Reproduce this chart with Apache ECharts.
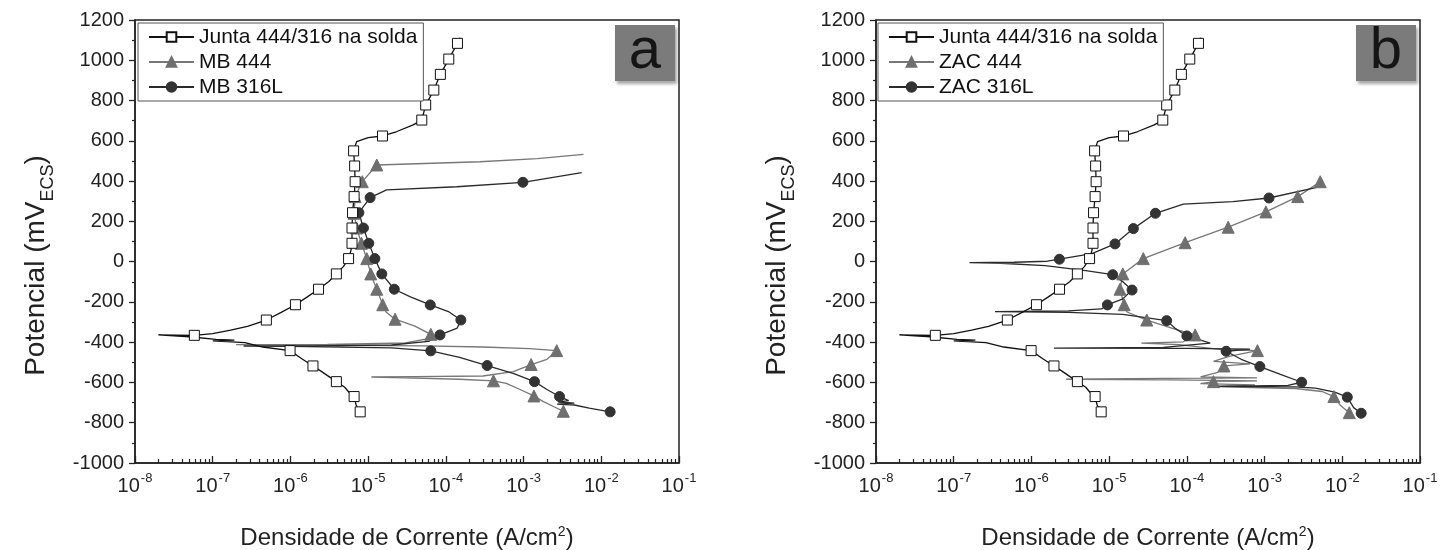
<!DOCTYPE html>
<html><head><meta charset="utf-8">
<script src="https://cdn.jsdelivr.net/npm/echarts/dist/echarts.min.js"></script>
<style>html,body{margin:0;padding:0;background:#fff}#c{width:1449px;height:550px}</style>
</head><body><div id="c"></div>
<script>
// ---- data: [current density (A/cm2), potential (mV), marker shown 1/0] ----
const juntaPts = [
 [7.9e-6,-746,1],[7.0e-6,-712,0],[6.6e-6,-670,1],[5.7e-6,-650,0],[5.0e-6,-624,0],[3.9e-6,-596,1],
 [3.0e-6,-566,0],[2.5e-6,-545,0],[1.95e-6,-518,1],[1.4e-6,-482,0],[9.9e-7,-442,1],[4.4e-7,-424,0],
 [2.6e-7,-402,0],[1.0e-7,-394,0],[1.9e-7,-390,0],[1.1e-7,-386,0],[5e-8,-373,0],[2e-8,-364,0],
 [5.8e-8,-366,1],[1.0e-7,-357,0],[1.7e-7,-340,0],[2.8e-7,-322,0],[4.9e-7,-290,1],[7.6e-7,-252,0],
 [1.16e-6,-214,1],[1.65e-6,-175,0],[2.3e-6,-137,1],[3.1e-6,-100,0],[3.9e-6,-61,1],[4.8e-6,-25,0],
 [5.6e-6,15,1],[6.0e-6,55,0],[6.2e-6,91,1],[6.2e-6,167,1],[6.3e-6,243,1],[6.6e-6,323,1],
 [6.8e-6,397,1],[6.7e-6,475,1],[6.5e-6,550,1],[7.1e-6,596,0],[1.0e-5,616,0],[1.53e-5,624,1],
 [2.3e-5,645,0],[3.8e-5,679,0],[4.9e-5,703,1],[5.5e-5,778,1],[7.0e-5,852,1],[8.5e-5,930,1],
 [1.09e-4,1006,1],[1.41e-4,1084,1],[1.52e-4,1112,0]
];
const mb444Pts = [
 [3.25e-3,-743,1],[2.5e-3,-722,0],[1.8e-3,-695,0],[1.36e-3,-667,1],[9e-4,-635,0],[6e-4,-605,0],
 [4.1e-4,-592,1],[1.5e-4,-584,0],[3e-5,-577,0],[1.1e-5,-573,0],[4e-5,-571,0],[3e-4,-568,0],
 [7.4e-4,-546,0],[1.25e-3,-511,1],[2.0e-3,-485,0],[2.67e-3,-442,1],[1.2e-3,-432,0],[3e-4,-424,0],
 [5e-5,-418,0],[2e-6,-415,0],[2e-7,-412,0],[3e-6,-411,0],[3e-5,-404,0],[5.5e-5,-385,0],
 [6.4e-5,-361,1],[4e-5,-320,0],[2.22e-5,-286,1],[1.7e-5,-250,0],[1.54e-5,-214,1],[1.29e-5,-137,1],
 [1.08e-5,-61,1],[9.6e-6,15,1],[8.2e-6,91,1],[7.1e-6,167,1],[6.6e-6,240,1],[6.8e-6,323,1],
 [8.4e-6,397,1],[1.29e-5,480,1],[2.75e-4,496,0],[1.5e-3,512,0],[5.9e-3,533,0]
];
const mb316Pts = [
 [1.3e-2,-746,1],[7e-3,-728,0],[4.5e-3,-712,0],[2.7e-3,-708,0],[4.5e-3,-703,0],[2.8e-3,-697,0],
 [3.8e-3,-690,0],[2.9e-3,-670,1],[2.0e-3,-635,0],[1.38e-3,-596,1],[7.5e-4,-556,0],[3.4e-4,-516,1],
 [1.5e-4,-476,0],[6.4e-5,-443,1],[2e-5,-428,0],[1e-6,-421,0],[2.5e-7,-419,0],[2e-6,-418,0],
 [2e-5,-414,0],[6e-5,-396,0],[8.4e-5,-364,1],[1.4e-4,-330,0],[1.56e-4,-290,1],[1.1e-4,-250,0],
 [6.3e-5,-215,1],[3.5e-5,-175,0],[2.17e-5,-137,1],[1.5e-5,-61,1],[1.22e-5,15,1],[1.02e-5,91,1],
 [8.7e-6,167,1],[7.6e-6,243,1],[1.06e-5,318,1],[1.73e-5,356,0],[1.38e-4,372,0],[9.8e-4,394,1],
 [5.6e-3,442,0]
];
const zac444Pts = [
 [1.23e-2,-750,1],[9.5e-3,-715,0],[7.8e-3,-670,1],[5.5e-3,-645,0],[2.5e-3,-630,0],[7e-4,-625,0],
 [2.4e-4,-620,0],[7.5e-4,-612,0],[1.5e-4,-606,0],[2.2e-4,-596,1],[8e-4,-592,0],[6e-5,-587,0],
 [2.8e-6,-584,0],[5e-5,-580,0],[8e-4,-577,0],[1.5e-4,-572,0],[2.5e-4,-550,0],[3.0e-4,-518,1],
 [6.5e-4,-508,0],[2.2e-4,-495,0],[3.5e-4,-470,0],[8.1e-4,-442,1],[3e-4,-438,0],[1.5e-4,-425,0],
 [8e-5,-412,0],[2.6e-5,-405,0],[9e-5,-398,0],[1.28e-4,-364,1],[7e-5,-335,0],[3.05e-5,-290,1],
 [1.7e-5,-250,0],[1.56e-5,-214,1],[1.38e-5,-137,1],[1.5e-5,-61,1],[2.75e-5,15,1],[9.5e-5,94,1],
 [3.4e-4,171,1],[1.04e-3,247,1],[2.67e-3,323,1],[5.2e-3,397,1]
];
const zac316Pts = [
 [1.75e-2,-753,1],[1.4e-2,-725,0],[1.16e-2,-673,1],[8e-3,-648,0],[4.5e-3,-628,0],[2.5e-3,-622,0],
 [2.5e-4,-619,0],[2.0e-3,-615,0],[3.0e-3,-599,1],[1.6e-3,-560,0],[8.7e-4,-521,1],[5e-4,-485,0],
 [3.2e-4,-445,1],[6.5e-4,-434,0],[1e-4,-431,0],[1.95e-6,-430,0],[5e-5,-426,0],[2e-4,-405,0],
 [1e-4,-369,1],[7e-5,-330,0],[5.5e-5,-293,1],[1.5e-5,-262,0],[3e-6,-252,0],[3.4e-7,-248,0],
 [3e-6,-245,0],[8e-6,-235,0],[9.5e-6,-215,1],[1.5e-5,-185,0],[1.97e-5,-141,1],[1.5e-5,-100,0],
 [1.11e-5,-65,1],[5e-6,-45,0],[1.5e-6,-20,0],[4e-7,-8,0],[1.6e-7,-5,0],[6e-7,-3,0],[1.6e-6,2,0],
 [2.29e-6,12,1],[6e-6,40,0],[1.19e-5,88,1],[2.05e-5,164,1],[3.94e-5,240,1],[9e-5,286,0],
 [3.9e-4,298,0],[1.14e-3,316,1],[5.2e-3,372,0]
];
const namesA = ['Junta 444/316 na solda','MB 444','MB 316L'];
const namesB = ['Junta 444/316 na solda','ZAC 444','ZAC 316L'];
const panelLabels = ['a','b'];
const yMin = -1000, yMax = 1200, yStep = 200;
const xExpMin = -8, xExpMax = -1;

// ---- build ----
const FONT = '"Liberation Sans", Arial, Helvetica, sans-serif';
const minorVals = [];
for (let e = xExpMin; e < xExpMax; e++) for (let k = 2; k <= 9; k++) minorVals.push(e + Math.log10(k));

const grids = [
  {left:135, right:770, top:20, bottom:87},
  {left:876, right:29, top:20, bottom:87}
].map(g => Object.assign(g, {show:true, borderColor:'#222', borderWidth:1.5, backgroundColor:'transparent',
  containLabel:false, outerBoundsMode:'none'}));

function logAxis(gi) {
  return {
    type:'log', gridIndex:gi, min:Math.pow(10,xExpMin), max:Math.pow(10,xExpMax), interval:1, logBase:10,
    position:'bottom',
    axisLine:{show:true, onZero:false, lineStyle:{color:'#222', width:1.5}},
    axisTick:{show:true, inside:true, length:7, lineStyle:{color:'#222', width:1.3}},
    splitLine:{show:false},
    axisLabel:{margin:9, color:'#222', fontFamily:FONT,
      formatter: v => '{b|10}{s|' + Math.round(Math.log10(v)) + '}',
      rich:{b:{fontSize:20, fontFamily:FONT, color:'#222', lineHeight:24, verticalAlign:'bottom'},
            s:{fontSize:13, fontFamily:FONT, color:'#222', verticalAlign:'top', lineHeight:24, padding:[0,0,10,1]}}},
    name:'Densidade de Corrente (A/cm{s|2})', nameLocation:'middle', nameGap:62,
    nameTextStyle:{fontSize:24, fontFamily:FONT, color:'#222',
      rich:{s:{fontSize:14, fontFamily:FONT, color:'#222', verticalAlign:'top', padding:[0,0,12,0]}}}
  };
}
function minorAxis(gi) {
  return {
    type:'value', gridIndex:gi, min:xExpMin, max:xExpMax, position:'bottom',
    axisLine:{show:false, onZero:false}, splitLine:{show:false}, axisLabel:{show:false},
    axisTick:{show:true, inside:true, length:4, customValues:minorVals, lineStyle:{color:'#222', width:1.2}}
  };
}
function yAx(gi) {
  return {
    type:'value', gridIndex:gi, min:yMin, max:yMax, interval:yStep,
    axisLine:{show:true, onZero:false, lineStyle:{color:'#222', width:1.5}},
    axisTick:{show:true, inside:false, length:6, lineStyle:{color:'#222', width:1.3}},
    minorTick:{show:true, splitNumber:2, length:3, lineStyle:{color:'#222', width:1.2}},
    splitLine:{show:false},
    axisLabel:{fontSize:20, color:'#222', fontFamily:FONT, margin:11, formatter: v => String(v)},
    name:'Potencial (mV{s|ECS})', nameLocation:'middle', nameGap:82, nameRotate:90,
    nameTextStyle:{fontSize:28, fontFamily:FONT, color:'#222', lineHeight:34, padding:[0,48,0,0],
      rich:{s:{fontSize:18, fontFamily:FONT, color:'#222', verticalAlign:'bottom', lineHeight:34, padding:[0,0,-4,0]}}}
  };
}

const styles = [
  {symbol:'rect', size:10, line:'#111', fill:'#fff', border:'#111'},
  {symbol:'triangle', size:12, line:'#777', fill:'#6f6f6f', border:'#6f6f6f'},
  {symbol:'circle', size:10, line:'#2a2a2a', fill:'#333', border:'#333'}
];
function mk(pts, name, st, gi) {
  return {
    type:'line', name:name, xAxisIndex:gi*2, yAxisIndex:gi, symbol:st.symbol, symbolSize:st.size,
    showAllSymbol:true, smooth:false, clip:true,
    lineStyle:{color:st.line, width:1.3},
    itemStyle:{color:st.fill, borderColor:st.border, borderWidth:1},
    data: pts.map(p => p[2] ? {value:[p[0],p[1]]} : {value:[p[0],p[1]], symbol:'none'})
  };
}
const series = [
  mk(mb444Pts, namesA[1], styles[1], 0), mk(mb316Pts, namesA[2], styles[2], 0), mk(juntaPts, namesA[0], styles[0], 0),
  mk(zac444Pts, namesB[1], styles[1], 1), mk(zac316Pts, namesB[2], styles[2], 1), mk(juntaPts, namesB[0], styles[0], 1)
];
function legend(left, names) {
  return {
    orient:'vertical', left:left, top:23, data:names, padding:[2,6,2,10], itemGap:1,
    itemWidth:45, itemHeight:12, borderColor:'#555', borderWidth:1, backgroundColor:'#fff',
    textStyle:{fontSize:21, fontFamily:FONT, color:'#111', lineHeight:24}, selectedMode:false
  };
}
function labelBox(right, txt) {
  return {
    type:'group', right:right, top:23,
    children:[
      {type:'rect', shape:{x:0, y:0, width:60, height:56},
       style:{fill:'#7b7b7b', shadowBlur:3, shadowOffsetX:2, shadowOffsetY:3, shadowColor:'rgba(0,0,0,0.35)'}},
      {type:'text', x:30, y:27, style:{text:txt, font:'58px "Liberation Sans", Arial, sans-serif', fill:'#151515', align:'center', verticalAlign:'middle'}}
    ]
  };
}

const chart = echarts.init(document.getElementById('c'), null, {renderer:'canvas'});
chart.setOption({
  animation:false, backgroundColor:'#fff',
  grid:grids,
  xAxis:[logAxis(0), minorAxis(0), logAxis(1), minorAxis(1)],
  yAxis:[yAx(0), yAx(1)],
  legend:[legend(138, namesA), legend(878, namesB)],
  graphic:[labelBox(774, panelLabels[0]), labelBox(33, panelLabels[1])],
  series:series
});
</script></body></html>
